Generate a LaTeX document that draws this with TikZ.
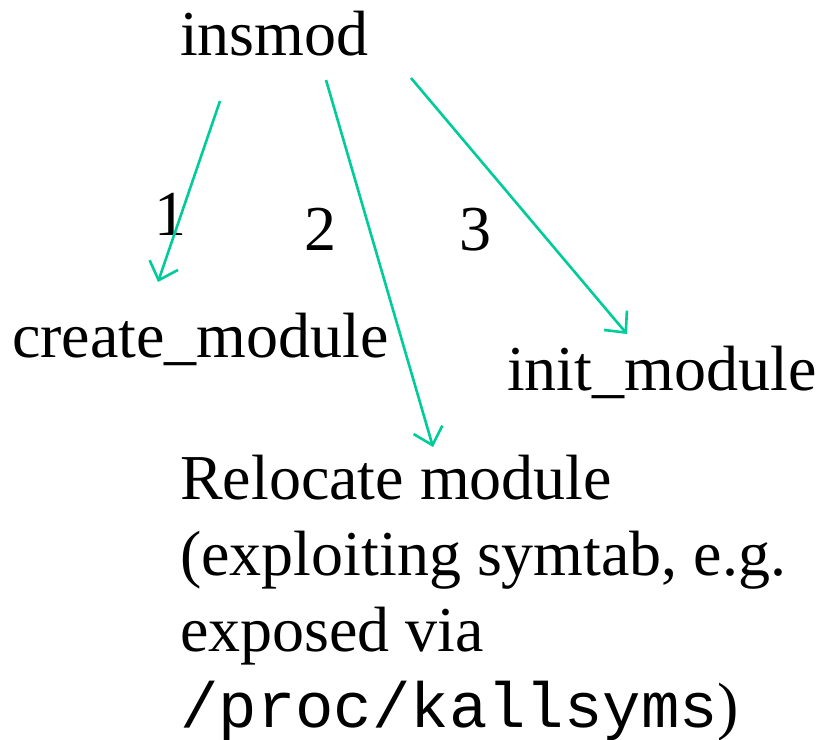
\documentclass[tikz,border=0pt]{standalone}
\usepackage{fontspec}
\setmainfont{Liberation Serif}
\setmonofont{Liberation Mono}
\usetikzlibrary{arrows.meta}
\definecolor{arrowgreen}{RGB}{0,204,153}
\begin{document}
\begin{tikzpicture}[x=1pt,y=-1pt,
  lbl/.style={inner sep=0pt,anchor=base west,font=\fontsize{64}{75.7}\selectfont},
  conn/.style={draw=arrowgreen,line width=2.6pt,-{Straight Barb[length=16pt,width=30pt,line width=2.6pt]}}]
\useasboundingbox (0,0) rectangle (819,739);
\node[lbl] (insmod) at (180,55) {insmod};
\node[lbl] (n1) at (154,235) {1};
\node[lbl] (n2) at (304,250) {2};
\node[lbl] (n3) at (459,250) {3};
\node[lbl] (create) at (12,357) {create\_module};
\node[lbl] (init) at (507,390) {init\_module};
\node[lbl,align=left] (reloc) at (180,727) {Relocate module\\(exploiting symtab, e.g.\\exposed via\\\texttt{/proc/kallsyms})};
\coordinate (s1) at (220,101);
\coordinate (e1) at (158,282);
\coordinate (s2) at (326,80);
\coordinate (e2) at (433,447);
\coordinate (s3) at (411,78);
\coordinate (e3) at (627,334);
\draw[conn] (s1) -- (e1);
\draw[conn] (s2) -- (e2);
\draw[conn] (s3) -- (e3);
\end{tikzpicture}
\end{document}
